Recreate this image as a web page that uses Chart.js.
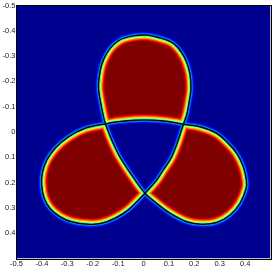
<!DOCTYPE html>
<html><head><meta charset="utf-8">
<script src="https://cdn.jsdelivr.net/npm/chart.js@4/dist/chart.umd.min.js"></script>
<style>html,body{margin:0;padding:0;background:#fff;overflow:hidden}canvas{display:block}</style>
</head><body>
<canvas id="c" width="273" height="268"></canvas>
<script>
// Contour (black level line), in data units.
// Starts and ends at the left crossing point.
const curveX = [-0.150,
  -0.156, -0.167, -0.177, -0.175, -0.165, -0.145, -0.119, -0.080,
  0.006, 0.091, 0.118, 0.148, 0.169, 0.183, 0.187, 0.180, 0.170, 0.157,
  0.137, 0.111, 0.078, 0.052, 0.006,
  -0.060, -0.112, -0.165, -0.217, -0.283, -0.329, -0.368, -0.391, -0.401, -0.398, -0.381, -0.348, -0.296, -0.230, -0.150,
  -0.075, 0.003, 0.080, 0.157,
  0.222, 0.288, 0.334, 0.367, 0.393, 0.405, 0.404, 0.380, 0.341, 0.288, 0.229, 0.170, 0.104, 0.052, 0.006,
  -0.033, -0.093, -0.125, -0.150];
const curveY = [-0.032,
  -0.054, -0.107, -0.170, -0.212, -0.265, -0.311, -0.344, -0.370,
  -0.383, -0.364, -0.350, -0.317, -0.278, -0.229, -0.170, -0.120, -0.067, -0.031,
  0.032, 0.098, 0.150, 0.190, 0.242,
  0.308, 0.341, 0.361, 0.365, 0.355, 0.335, 0.302, 0.262, 0.209, 0.160, 0.111, 0.064, 0.019, -0.015, -0.032,
  -0.043, -0.047, -0.043, -0.031,
  -0.021, 0.005, 0.045, 0.084, 0.137, 0.190, 0.223, 0.282, 0.328, 0.358, 0.365, 0.355, 0.321, 0.282, 0.242,
  0.190, 0.098, 0.032, -0.032];
const xTicks = [-0.5, -0.4, -0.3, -0.2, -0.1, 0, 0.1, 0.2, 0.3, 0.4];
const yTicks = [-0.5, -0.4, -0.3, -0.2, -0.1, 0, 0.1, 0.2, 0.3, 0.4];

const points = curveX.map((x, i) => ({x: x, y: curveY[i]}));
const bgColor = 'rgb(0,0,143)';
const inColor = 'rgb(128,0,0)';
const outerBands = [[7, 'rgb(0,0,215)'], [4.5, 'rgb(0,70,255)'], [2.5, 'rgb(0,185,255)']];
const innerBands = [[12, 'rgb(205,0,0)'], [9.5, 'rgb(255,50,0)'], [7.5, 'rgb(255,160,0)'], [5.5, 'rgb(215,255,40)'], [3.5, 'rgb(70,255,190)']];

function fmt(v) {
  if (Math.abs(v) < 1e-9) return '0';
  return (v < 0 ? '-' : '') + Math.abs(v).toFixed(1);
}

const field = {
  id: 'field',
  beforeDatasetsDraw(chart) {
    const ctx = chart.ctx, a = chart.chartArea;
    const meta = chart.getDatasetMeta(0);
    const line = meta.dataset;
    if (line.updateControlPoints) line.updateControlPoints(a, 'x');
    const sx = chart.scales.x, sy = chart.scales.y;
    const trace = () => {
      ctx.beginPath();
      if (typeof line.path === 'function') {
        line.path(ctx);
      } else {
        points.forEach((p, i) => {
          const px = sx.getPixelForValue(p.x), py = sy.getPixelForValue(p.y);
          if (i) ctx.lineTo(px, py); else ctx.moveTo(px, py);
        });
      }
      ctx.closePath();
    };
    ctx.save();
    ctx.beginPath(); ctx.rect(a.left, a.top, a.width, a.height); ctx.clip();
    ctx.fillStyle = bgColor; ctx.fillRect(a.left, a.top, a.width, a.height);
    ctx.lineJoin = 'round';
    for (const [w, c] of outerBands) { trace(); ctx.lineWidth = w; ctx.strokeStyle = c; ctx.stroke(); }
    trace(); ctx.clip('evenodd');
    ctx.fillStyle = inColor; ctx.fillRect(a.left, a.top, a.width, a.height);
    for (const [w, c] of innerBands) { trace(); ctx.lineWidth = w; ctx.strokeStyle = c; ctx.stroke(); }
    ctx.restore();
  },
  afterDatasetsDraw(chart) {
    const ctx = chart.ctx, a = chart.chartArea;
    ctx.save();
    ctx.strokeStyle = '#000'; ctx.lineWidth = 1;
    ctx.strokeRect(Math.round(a.left) - 0.5, Math.round(a.top) - 0.5, Math.round(a.width) + 1, Math.round(a.height) + 1);
    ctx.restore();
  }
};

const tickFont = {family: '"Liberation Sans", Arial, Helvetica, sans-serif', size: 7.5};

new Chart(document.getElementById('c'), {
  type: 'scatter',
  data: {datasets: [{data: points, showLine: true, borderColor: '#000', borderWidth: 1.5,
    pointRadius: 0, pointHoverRadius: 0, tension: 0.35, fill: false}]},
  options: {
    responsive: false, animation: false, events: [],
    layout: {padding: {top: 5.5, right: 2.5, left: 0, bottom: 0}},
    plugins: {legend: {display: false}, tooltip: {enabled: false}},
    scales: {
      x: {type: 'linear', min: -0.5, max: 0.5,
        afterBuildTicks(s) { s.ticks = xTicks.map(v => ({value: v})); },
        afterFit(s) { s.height = 9.5; },
        grid: {display: false, drawTicks: false}, border: {display: false},
        ticks: {padding: 1, font: tickFont, color: '#222', maxRotation: 0, autoSkip: false, callback: v => fmt(v)}},
      y: {type: 'linear', reverse: true, min: -0.5, max: 0.5,
        afterBuildTicks(s) { s.ticks = yTicks.map(v => ({value: v})); },
        afterFit(s) { s.width = 16.5; },
        grid: {display: false, drawTicks: false}, border: {display: false},
        ticks: {padding: 1, font: tickFont, color: '#222', autoSkip: false, callback: v => fmt(v)}}
    }
  },
  plugins: [field]
});
</script>
</body></html>
